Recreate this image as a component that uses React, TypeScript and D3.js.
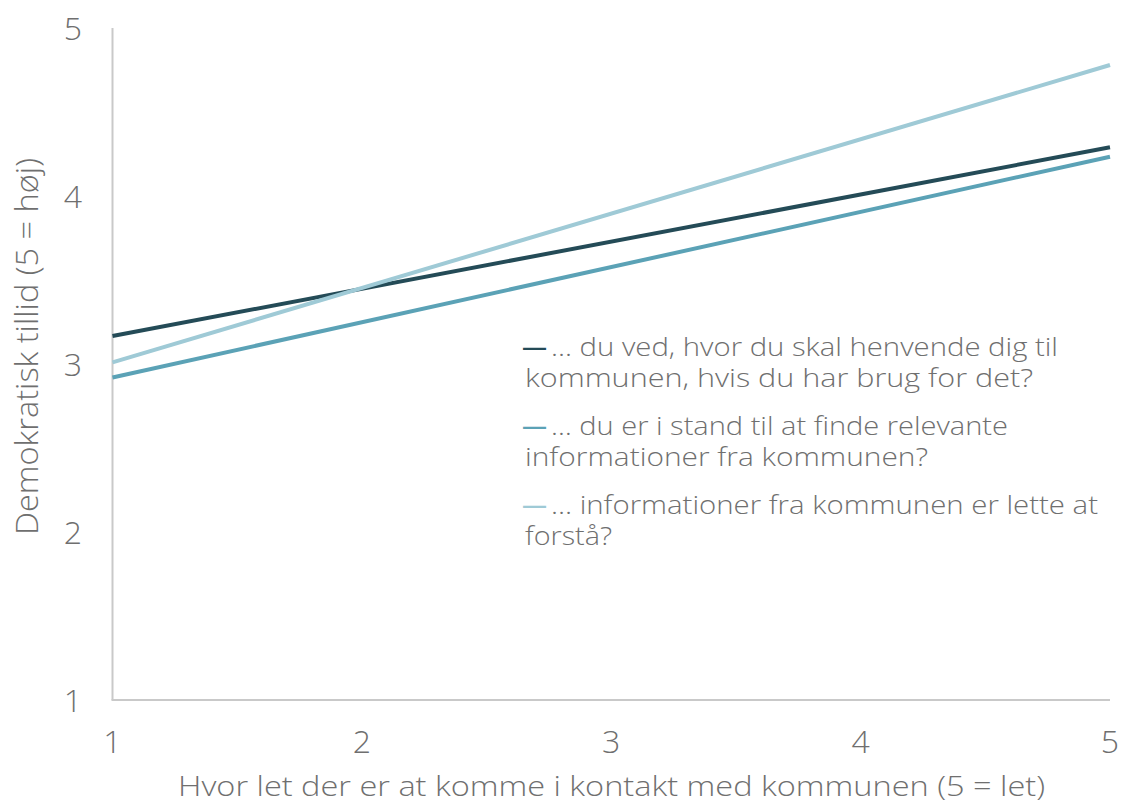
import React from "react";
import * as d3 from "d3";

const xDomain = [1, 5];
const yDomain = [1, 5];
const xTicks = [1, 2, 3, 4, 5];
const yTicks = [1, 2, 3, 4, 5];

const seriesNames = ["hvor", "finde", "forstaa"];
const seriesColors = ["#244b57", "#5ba2b6", "#9fcad6"];
const seriesStart = [3.167, 2.92, 3.01];
const seriesEnd = [4.29, 4.234, 4.78];

const legendLines = [
  ["… du ved, hvor du skal henvende dig til", "kommunen, hvis du har brug for det?"],
  ["… du er i stand til at finde relevante", "informationer fra kommunen?"],
  ["… informationer fra kommunen er lette at", "forstå?"],
];
const legendLengths = [
  [507, 508],
  [457, 403],
  [547, 87],
];

const xTitle = "Hvor let der er at komme i kontakt med kommunen (5 = let)";
const yTitle = "Demokratisk tillid (5 = høj)";

const W = 1122;
const H = 805;
const FONT = "'Open Sans', sans-serif";
const TEXT = "#6f6f6f";

export default function App() {
  const x = d3.scaleLinear().domain(xDomain).range([112.5, 1110]);
  const y = d3.scaleLinear().domain(yDomain).range([700, 28]);
  const line = d3
    .line<[number, number]>()
    .x((d) => x(d[0]))
    .y((d) => y(d[1]));

  return (
    <svg
      width={W}
      height={H}
      style={{ position: "absolute", left: 0, top: 0, background: "#fff" }}
      fontFamily={FONT}
    >
      {/* axes */}
      <line x1={x(1)} x2={x(1)} y1={y(5)} y2={y(1)} stroke="#c9c9c9" strokeWidth={2} />
      <line x1={x(1) - 1} x2={x(5)} y1={y(1)} y2={y(1)} stroke="#c9c9c9" strokeWidth={2} />

      {yTicks.map((t) => (
        <text
          key={"y" + t}
          x={82}
          y={y(t)}
          dy="0.36em"
          textAnchor="end"
          fontSize={32}
          fontWeight={300}
          fill={TEXT}
        >
          {t}
        </text>
      ))}
      {xTicks.map((t) => (
        <text
          key={"x" + t}
          x={x(t)}
          y={753}
          textAnchor="middle"
          fontSize={32}
          fontWeight={300}
          fill={TEXT}
        >
          {t}
        </text>
      ))}

      <text
        x={611.5}
        y={796}
        textAnchor="middle"
        fontSize={28}
        fontWeight={300}
        fill={TEXT}
        textLength={867}
        lengthAdjust="spacingAndGlyphs"
      >
        {xTitle}
      </text>
      <text
        transform={`translate(38, 346.5) rotate(-90)`}
        textAnchor="middle"
        fontSize={31}
        fontWeight={300}
        fill={TEXT}
        textLength={377}
        lengthAdjust="spacingAndGlyphs"
      >
        {yTitle}
      </text>

      {seriesNames.map((n, i) => (
        <path
          key={n}
          d={line([
            [xDomain[0], seriesStart[i]],
            [xDomain[1], seriesEnd[i]],
          ]) as string}
          fill="none"
          stroke={seriesColors[i]}
          strokeWidth={4}
        />
      ))}

      {legendLines.map((ls, i) => {
        const base = 356 + i * 79;
        return (
          <g key={"lg" + i}>
            <text x={522} y={base} fontSize={25} fontWeight={600} fill={seriesColors[i]}>
              —
            </text>
            <text
              x={551}
              y={base}
              fontSize={25}
              fontWeight={300}
              fill={TEXT}
              textLength={legendLengths[i][0]}
              lengthAdjust="spacingAndGlyphs"
            >
              {ls[0]}
            </text>
            <text
              x={525}
              y={base + 30.7}
              fontSize={25}
              fontWeight={300}
              fill={TEXT}
              textLength={legendLengths[i][1]}
              lengthAdjust="spacingAndGlyphs"
            >
              {ls[1]}
            </text>
          </g>
        );
      })}
    </svg>
  );
}
